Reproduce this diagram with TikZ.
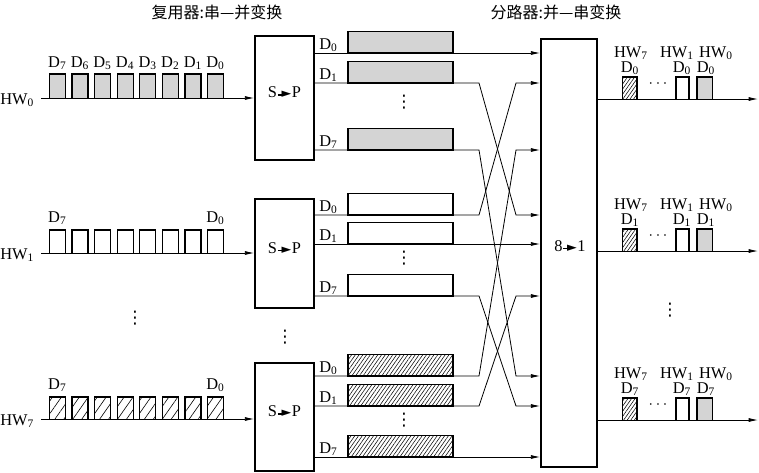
\documentclass[tikz,border=0pt]{standalone}
\usepackage{fontspec}
\setmainfont{Liberation Serif}
\newfontfamily\cjkfont{Noto Sans CJK SC}
\newfontfamily\dvfont{DejaVu Sans}
\usetikzlibrary{arrows.meta,patterns.meta,fit}
\newcommand{\sparr}{\kern0.6pt\raisebox{0.3ex}{\rule{3.6pt}{1pt}}\kern-0.8pt{\dvfont\fontsize{9.5}{9.5}\selectfont\raisebox{0.05ex}{►}}\kern0.4pt}
\newcommand{\Dx}[1]{D\textsubscript{#1}}
\newcommand{\HWx}[1]{HW\textsubscript{#1}}
\begin{document}
\begin{tikzpicture}[x=0.75pt,y=-0.75pt,
  thin line/.style={line width=0.6pt},
  arr/.style={thin line,-{Latex[length=7pt,width=3pt]}},
  box/.style={draw,line width=1.2pt,inner sep=0pt},
  pulse/.style={draw,line width=0.9pt},
  barbox/.style={draw,line width=1.1pt},
  grayfill/.style={fill=black!17},
  hatchbar/.style={pattern={Lines[angle=55,distance=2.3pt,line width=0.4pt]}},
  hatchpulse/.style={pattern={Lines[angle=55,distance=5.5pt,line width=0.45pt]}},
  hatchout/.style={pattern={Lines[angle=55,distance=2.2pt,line width=0.4pt]}},
  lbl/.style={font=\fontsize{12.3}{14}\selectfont,inner sep=0pt},
  title/.style={font=\cjkfont\fontsize{12}{14}\selectfont,inner sep=0pt},
  vd/.style={font=\dvfont\fontsize{13}{15}\selectfont,inner sep=0pt}
]
\useasboundingbox (0,0) rectangle (759,472);

% titles
\node[title] (t1) at (217,12) {复用器:串—并变换};
\node[title] (t2) at (556,12) {分路器:并—串变换};

% S->P boxes
\node[box,fit={(255,36) (314,160)},lbl] (sp1) {S\sparr P};
\node[box,fit={(255,199) (314,308)},lbl] (sp2) {S\sparr P};
\node[box,fit={(255,363) (314,471)},lbl] (sp3) {S\sparr P};
% 8->1 box
\node[box,fit={(541,39) (597,467)}] (big) {};
\node[lbl] (l81) at (570,246) {8\sparr 1};

% input labels
\node[lbl,anchor=west] (hw0) at (0,100) {\HWx{0}};
\node[lbl,anchor=west] (hw1) at (0,255) {\HWx{1}};
\node[lbl,anchor=west] (hw7) at (0,421) {\HWx{7}};
\coordinate (s0) at (41,98);
\coordinate (s1) at (41,253);
\coordinate (s7) at (41,419);

% input pulses
\foreach \i/\d in {0/7,1/6,2/5,3/4,4/3,5/2,6/1,7/0}{
  \pgfmathsetmacro{\xl}{49.3+22.6*\i}
  \pgfmathsetmacro{\xr}{\xl+16}
  \pgfmathsetmacro{\xc}{\xl+8}
  \path[pulse,grayfill] (\xl,98) -- (\xl,74) -- (\xr,74) -- (\xr,98);
  \node[lbl,anchor=base] at (\xc,67) {\Dx{\d}};
  \path[pulse] (\xl,253) -- (\xl,230) -- (\xr,230) -- (\xr,253);
  \path[pulse,hatchpulse] (\xl,419) -- (\xl,397) -- (\xr,397) -- (\xr,419);
}
\node[lbl,anchor=base] (d7a) at (57.3,222) {\Dx{7}};
\node[lbl,anchor=base] (d0a) at (215.5,222) {\Dx{0}};
\node[lbl,anchor=base] (d7b) at (57.3,389) {\Dx{7}};
\node[lbl,anchor=base] (d0b) at (215.5,389) {\Dx{0}};

\draw[arr] (s0) -- (s0 -| sp1.west);
\draw[arr] (s1) -- (s1 -| sp2.west);
\draw[arr] (s7) -- (s7 -| sp3.west);

% bars
\foreach \y in {53,83,150}{\path[barbox,grayfill] (348,\y) rectangle (453,\y-21.5);}
\foreach \y in {215,244,296}{\path[barbox,fill=white] (348,\y) rectangle (453,\y-21.5);}
\foreach \y in {376,406,457}{\path[barbox,hatchbar] (348,\y) rectangle (453,\y-21.5);}

% output labels of S->P
\foreach \y/\d in {53/0,83/1,150/7,215/0,244/1,296/7,376/0,406/1,457/7}{
  \node[lbl,anchor=base west] at (319,\y-4) {\Dx{\d}};
}

% connectors
\draw[arr] (sp1.east |- 0,53) -- (big.west |- 0,53);
\draw[arr] (sp1.east |- 0,83) -- (479,83) -- (516,215) -- (big.west |- 0,215);
\draw[arr] (sp1.east |- 0,150) -- (479,150) -- (516,376) -- (big.west |- 0,376);
\draw[arr] (sp2.east |- 0,215) -- (479,215) -- (516,83) -- (big.west |- 0,83);
\draw[arr] (sp2.east |- 0,244) -- (big.west |- 0,244);
\draw[arr] (sp2.east |- 0,296) -- (479,296) -- (516,406) -- (big.west |- 0,406);
\draw[arr] (sp3.east |- 0,376) -- (479,376) -- (516,150) -- (big.west |- 0,150);
\draw[arr] (sp3.east |- 0,406) -- (479,406) -- (516,296) -- (big.west |- 0,296);
\draw[arr] (sp3.east |- 0,457) -- (big.west |- 0,457);

% vertical dots
\node[vd] (v1) at (404,102) {⋮};
\node[vd] (v2) at (404,258) {⋮};
\node[vd] (v3) at (404,420) {⋮};
\node[vd] (v4) at (135,318) {⋮};
\node[vd] (v5) at (285,337) {⋮};
\node[vd] (v6) at (670,310) {⋮};

% outputs
\foreach \b/\k in {99/0,251/1,420/7}{
  \path[pulse,hatchout] (622.7,\b) -- (622.7,\b-22) -- (637,\b-22) -- (637,\b);
  \path[pulse] (676,\b) -- (676,\b-22) -- (689,\b-22) -- (689,\b);
  \path[pulse,grayfill] (697,\b) -- (697,\b-22) -- (712.7,\b-22) -- (712.7,\b);
  \node[lbl,anchor=base] at (631,\b-42) {\HWx{7}};
  \node[lbl,anchor=base] at (677,\b-42) {\HWx{1}};
  \node[lbl,anchor=base] at (716,\b-42) {\HWx{0}};
  \node[lbl,anchor=base] at (630,\b-27) {\Dx{\k}};
  \node[lbl,anchor=base] at (682,\b-27) {\Dx{\k}};
  \node[lbl,anchor=base] at (706,\b-27) {\Dx{\k}};
  \node[lbl] at (658,\b-15) {$\cdots$};
}
\coordinate (o0) at (758,99);
\coordinate (o1) at (758,251);
\coordinate (o7) at (758,420);
\draw[arr] (big.east |- o0) -- (o0);
\draw[arr] (big.east |- o1) -- (o1);
\draw[arr] (big.east |- o7) -- (o7);
\end{tikzpicture}
\end{document}
